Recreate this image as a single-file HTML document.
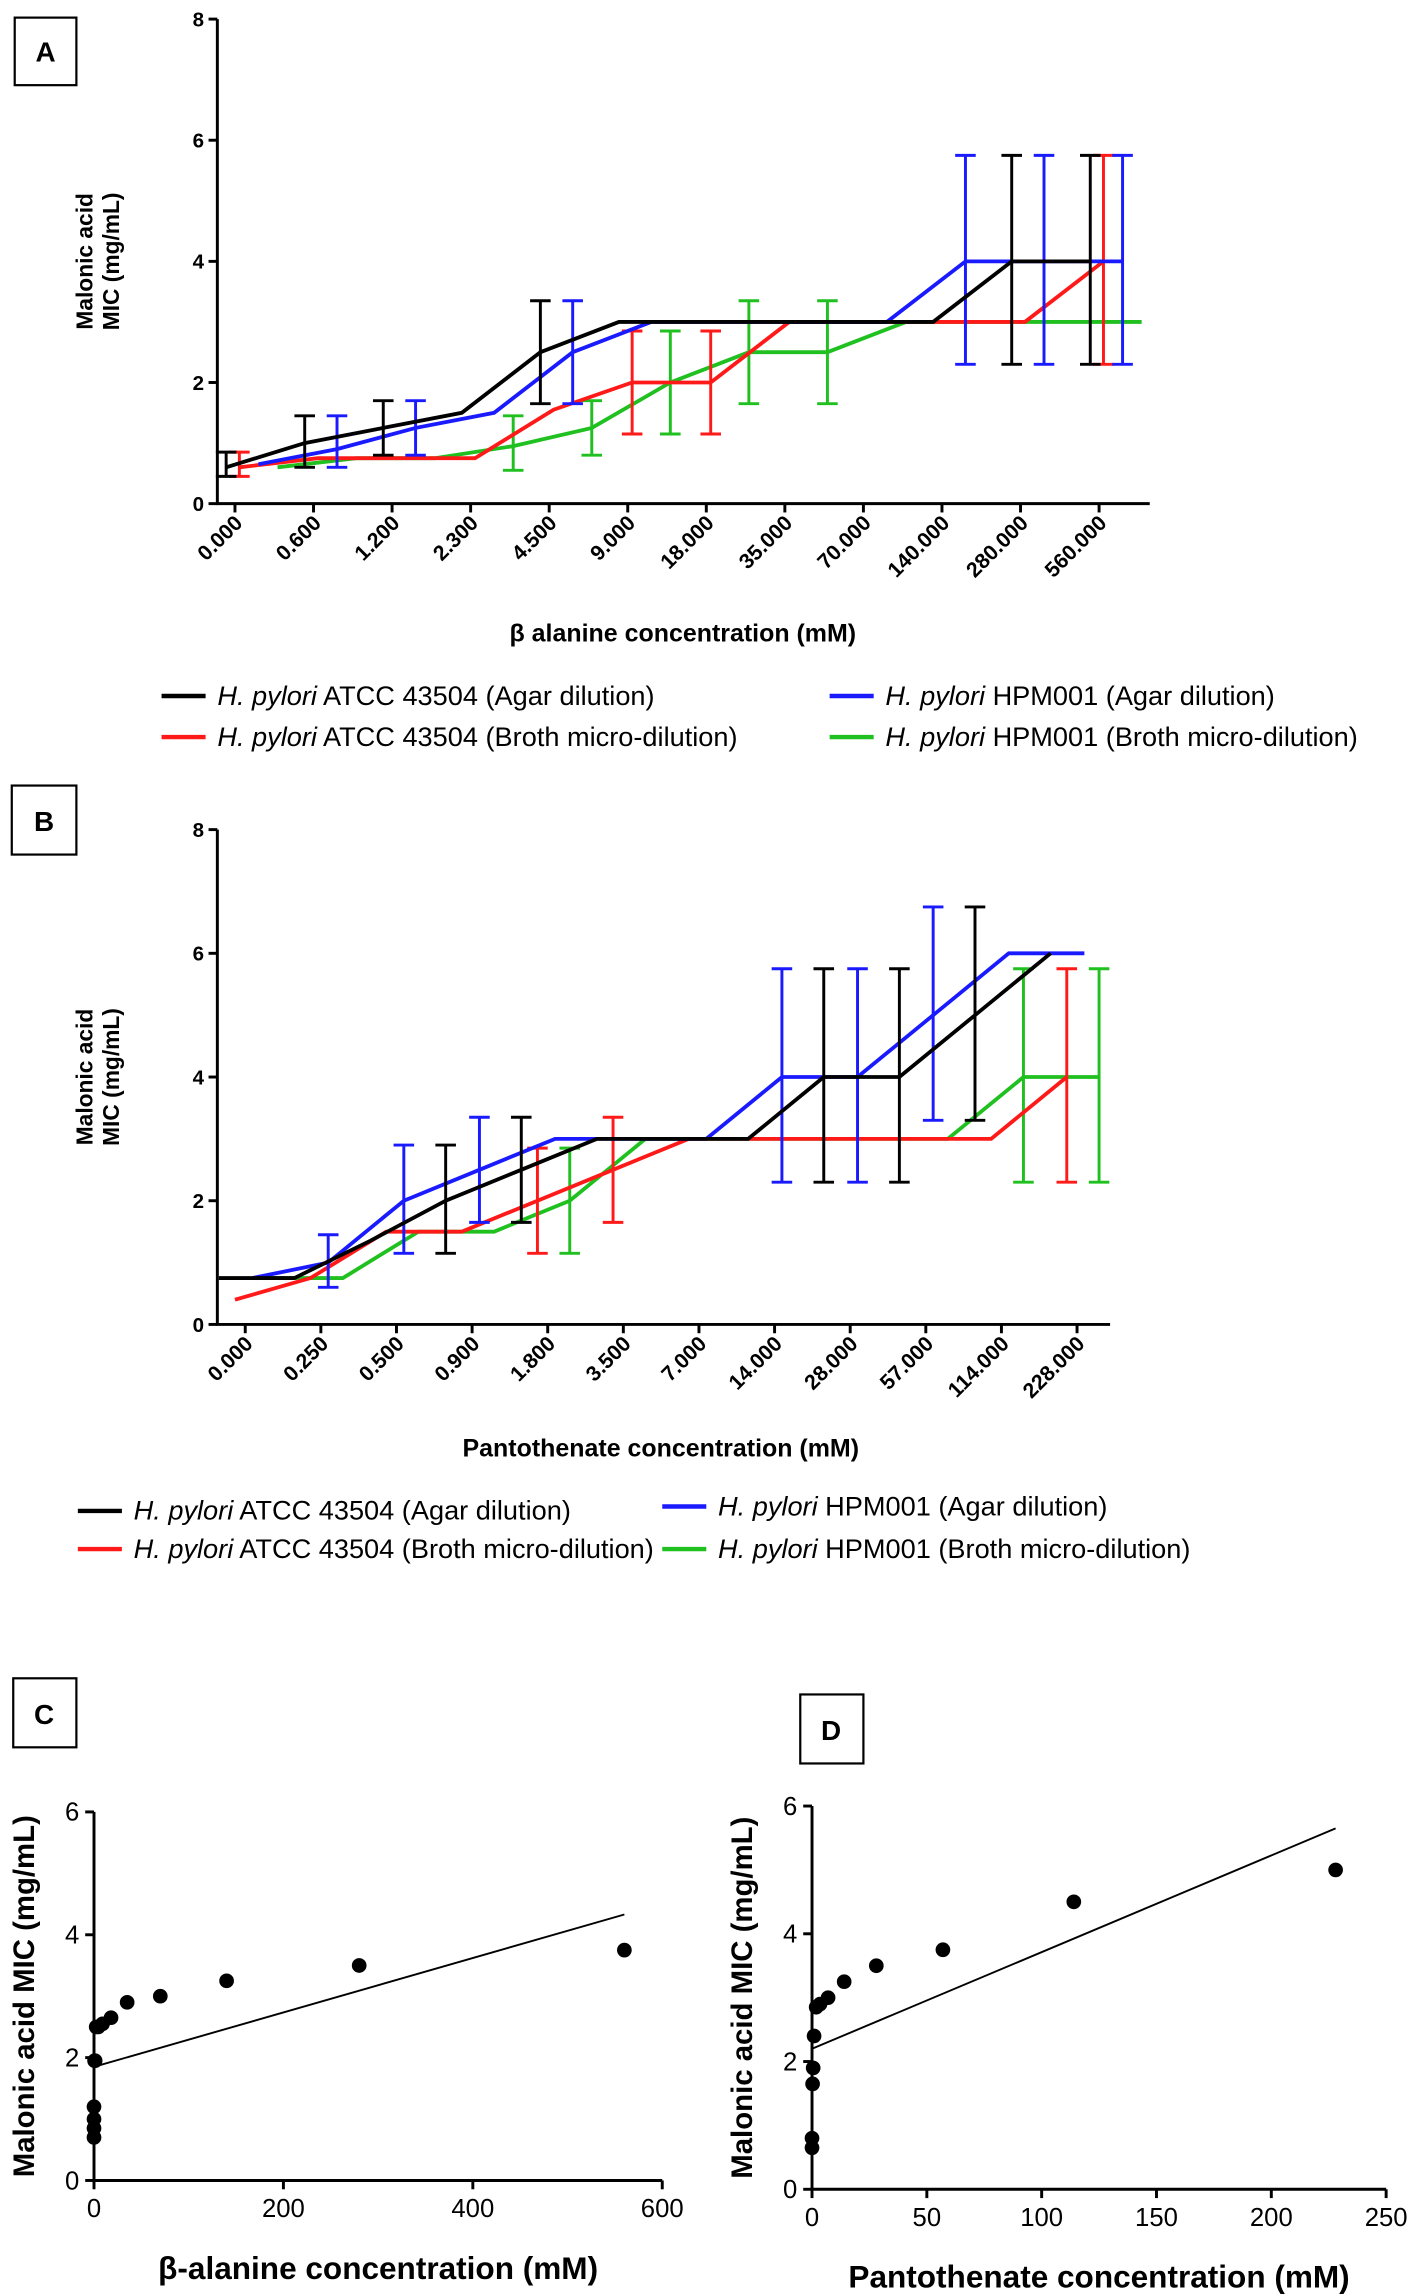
<!DOCTYPE html>
<html><head><meta charset="utf-8"><style>
html,body{margin:0;padding:0;background:#fff}
svg{display:block}
text{font-family:"Liberation Sans",Arial,sans-serif;fill:#000}
</style></head><body>
<svg id="fig" width="1417" height="2295" viewBox="0 0 965 1563" xmlns="http://www.w3.org/2000/svg">
<g><rect x="10" y="12" width="42" height="46" fill="none" stroke="#000" stroke-width="1.5"/><text x="31" y="42" font-size="19" font-weight="bold" text-anchor="middle">A</text></g>
<g><rect x="8" y="535" width="44" height="47" fill="none" stroke="#000" stroke-width="1.5"/><text x="30" y="566" font-size="19" font-weight="bold" text-anchor="middle">B</text></g>
<g><rect x="9" y="1143" width="43" height="47" fill="none" stroke="#000" stroke-width="1.5"/><text x="30" y="1174" font-size="19" font-weight="bold" text-anchor="middle">C</text></g>
<g><rect x="545" y="1154" width="43" height="47" fill="none" stroke="#000" stroke-width="1.5"/><text x="566" y="1185" font-size="19" font-weight="bold" text-anchor="middle">D</text></g>
<g id="A"></g><g id="B"></g><g id="C"></g><g id="D"></g>
</svg>
<script>
// ---------- Panel A data ----------
const catsA = ["0.000","0.600","1.200","2.300","4.500","9.000","18.000","35.000","70.000","140.000","280.000","560.000"];
const aBlack = [0.6,1.0,1.25,1.5,2.5,3,3,3,3,3,4,4];
const aBlue  = [0.65,0.9,1.25,1.5,2.5,3,3,3,3,4,4,4];
const aRed   = [0.6,0.75,0.75,0.75,1.55,2,2,3,3,3,3,4];
const aGreen = [0.6,0.75,0.75,0.95,1.25,2,2.5,2.5,3,3,3,3];
const aBlackErr = [[0,0.45,0.85],[1,0.6,1.45],[2,0.8,1.7],[4,1.65,3.35],[10,2.3,5.75],[11,2.3,5.75]];
const aBlueErr  = [[1,0.6,1.45],[2,0.8,1.7],[4,1.65,3.35],[9,2.3,5.75],[10,2.3,5.75],[11,2.3,5.75]];
const aRedErr   = [[0,0.45,0.85],[5,1.15,2.85],[6,1.15,2.85],[11,2.3,5.75]];
const aGreenErr = [[3,0.55,1.45],[4,0.8,1.7],[5,1.15,2.85],[6,1.65,3.35],[7,1.65,3.35]];
// ---------- Panel B data ----------
const catsB = ["0.000","0.250","0.500","0.900","1.800","3.500","7.000","14.000","28.000","57.000","114.000","228.000"];
const bBlack = [0.75,0.75,1.35,2.0,2.5,3,3,3,4,4,5,6];
const bBlue  = [0.75,1.0,2.0,2.5,3,3,3,4,4,5,6,6];
const bRed   = [0.4,0.75,1.5,1.5,2.0,2.5,3,3,3,3,3,4];
const bGreen = [0.75,0.75,1.5,1.5,2.0,3,3,3,3,3,4,4];
const bBlackErr = [[3,1.15,2.9],[4,1.65,3.35],[8,2.3,5.75],[9,2.3,5.75],[10,3.3,6.75]];
const bBlueErr  = [[1,0.6,1.45],[2,1.15,2.9],[3,1.65,3.35],[7,2.3,5.75],[8,2.3,5.75],[9,3.3,6.75]];
const bRedErr   = [[4,1.15,2.85],[5,1.65,3.35],[11,2.3,5.75]];
const bGreenErr = [[4,1.15,2.85],[10,2.3,5.75],[11,2.3,5.75]];
// ---------- Panel C data ----------
const cX = [0,0,0,0,0.6,1.2,2.3,4.5,9,18,35,70,140,280,560];
const cY = [0.7,0.85,1.0,1.2,1.95,1.95,2.5,2.5,2.55,2.65,2.9,3.0,3.25,3.5,3.75];
const cFit = [1.85,4.33];
const cXTicks = [0,200,400,600];
const cYTicks = [0,2,4,6];
// ---------- Panel D data ----------
const dX = [0,0,0.25,0.5,0.9,1.8,3.5,7,14,28,57,114,228];
const dY = [0.65,0.8,1.65,1.9,2.4,2.85,2.9,3.0,3.25,3.5,3.75,4.5,5.0];
const dFit = [2.2,5.65];
const dXTicks = [0,50,100,150,200,250];
const dYTicks = [0,2,4,6];
const yTicksAB = [0,2,4,6,8];

const NS="http://www.w3.org/2000/svg";
function mk(parent,tag,attrs,txt){const e=document.createElementNS(NS,tag);for(const k in attrs)e.setAttribute(k,attrs[k]);if(txt!==undefined)e.textContent=txt;parent.appendChild(e);return e;}

function linePanel(g,o){
  const X=i=>o.c0+o.step*i;
  const Y=v=>o.y0-(v/8)*(o.y0-o.y8);
  const ax=mk(g,'path',{d:`M${o.ax} ${o.y8}V${o.y0}H${o.xEnd}`,fill:'none',stroke:'#000','stroke-width':2});
  
  
  yTicksAB.forEach(t=>{
    const tk=mk(g,'line',{x1:o.ax-6,x2:o.ax,y1:Y(t),y2:Y(t),stroke:'#000','stroke-width':2});
    
    
    const tl=mk(g,'text',{x:o.ax-9,y:Y(t)+5,'font-size':14,'font-weight':'bold','text-anchor':'end'},t);
    
    
  });
  o.cats.forEach((c,i)=>{
    const x=X(i)+o.labOff;
    const tk=mk(g,'line',{x1:x,x2:x,y1:o.y0,y2:o.y0+6,stroke:'#000','stroke-width':2});
    
    
    const tl=mk(g,'text',{x:x+6,y:o.y0+14,'font-size':14.5,'font-weight':'bold','text-anchor':'end',transform:`rotate(-45 ${x+6} ${o.y0+14})`},c);
    
    
  });
  o.series.forEach(s=>{
    const pts=s.v.map((v,i)=>`${X(i)+s.off},${Y(v)}`).join(' ');
    const pl=mk(g,'polyline',{points:pts,fill:'none',stroke:s.col,'stroke-width':2.6});
    
    
    s.err.forEach(e=>{
      const x=X(e[0])+s.off;
      const eb=mk(g,'path',{d:`M${x-7} ${Y(e[1])}H${x+7}M${x} ${Y(e[1])}V${Y(e[2])}M${x-7} ${Y(e[2])}H${x+7}`,fill:'none',stroke:s.col,'stroke-width':2});
      
      
    });
  });
  const yt=mk(g,'text',{x:0,y:0,'font-size':15.5,'font-weight':'bold','text-anchor':'middle',transform:`translate(${o.ytX},${(o.y0+o.y8)/2}) rotate(-90)`});
  
  
  mk(yt,'tspan',{x:0,dy:-9},'Malonic acid');
  mk(yt,'tspan',{x:0,dy:18},'MIC (mg/mL)');
  const xt=mk(g,'text',{x:o.xtX,y:o.xtY,'font-size':17,'font-weight':'bold','text-anchor':'middle'},o.xTitle);
  
  
  o.legend.forEach(l=>{
    const ll=mk(g,'line',{x1:l.x,x2:l.x+30,y1:l.y-6,y2:l.y-6,stroke:l.col,'stroke-width':3});
    
    
    const lt=mk(g,'text',{x:l.x+38,y:l.y,'font-size':18.5});
    
    
    mk(lt,'tspan',{'font-style':'italic'},'H. pylori');
    mk(lt,'tspan',{},' '+l.t);
  });
}

linePanel(document.getElementById('A'),{cats:catsA,c0:160,step:53.5,ax:148,xEnd:783,y0:343,y8:13,labOff:0,ytX:72,xtX:465,xtY:437,
  xTitle:'β alanine concentration (mM)',
  series:[{name:'green',col:'#1fc01f',v:aGreen,off:29,err:aGreenErr},{name:'red',col:'#ff1a1a',v:aRed,off:3,err:aRedErr},
          {name:'blue',col:'#1a1aff',v:aBlue,off:16,err:aBlueErr},{name:'black',col:'#000',v:aBlack,off:-6,err:aBlackErr}],
  legend:[{x:110,y:480,col:'#000',t:'ATCC 43504 (Agar dilution)'},{x:110,y:508,col:'#ff1a1a',t:'ATCC 43504 (Broth micro-dilution)'},
          {x:565,y:480,col:'#1a1aff',t:'HPM001 (Agar dilution)'},{x:565,y:508,col:'#1fc01f',t:'HPM001 (Broth micro-dilution)'}]});

linePanel(document.getElementById('B'),{cats:catsB,c0:167,step:51.5,ax:148,xEnd:756,y0:902,y8:565,labOff:0,ytX:72,xtX:450,xtY:992,
  xTitle:'Pantothenate concentration (mM)',
  series:[{name:'green',col:'#1fc01f',v:bGreen,off:15,err:bGreenErr},{name:'red',col:'#ff1a1a',v:bRed,off:-7,err:bRedErr},
          {name:'blue',col:'#1a1aff',v:bBlue,off:5,err:bBlueErr},{name:'black',col:'#000',v:bBlack,off:-18,err:bBlackErr}],
  legend:[{x:53,y:1035,col:'#000',t:'ATCC 43504 (Agar dilution)'},{x:53,y:1061,col:'#ff1a1a',t:'ATCC 43504 (Broth micro-dilution)'},
          {x:451,y:1032,col:'#1a1aff',t:'HPM001 (Agar dilution)'},{x:451,y:1061,col:'#1fc01f',t:'HPM001 (Broth micro-dilution)'}]});

function scatter(g,o){
  const X=v=>o.x0+(v-o.xt[0])/(o.xt[o.xt.length-1]-o.xt[0])*(o.x1-o.x0);
  const Y=v=>o.y0-v/6*(o.y0-o.y6);
  const ax=mk(g,'path',{d:`M${o.x0} ${o.y6}V${o.y0}H${o.x1}`,fill:'none',stroke:'#000','stroke-width':2});
  
  
  o.yt.forEach(t=>{
    const tk=mk(g,'line',{x1:o.x0-6,x2:o.x0,y1:Y(t),y2:Y(t),stroke:'#000','stroke-width':2});
    
    
    const tl=mk(g,'text',{x:o.x0-10,y:Y(t)+6,'font-size':17.5,'text-anchor':'end'},t);
    
    
  });
  o.xt.forEach(t=>{
    const tk=mk(g,'line',{x1:X(t),x2:X(t),y1:o.y0,y2:o.y0+6,stroke:'#000','stroke-width':2});
    
    
    const tl=mk(g,'text',{x:X(t),y:o.y0+25,'font-size':17.5,'text-anchor':'middle'},t);
    
    
  });
  const xmax=o.xs[o.xs.length-1];
  const fl=mk(g,'line',{x1:X(0),y1:Y(o.fit[0]),x2:X(xmax),y2:Y(o.fit[1]),stroke:'#000','stroke-width':1.3});
  
  
  o.xs.forEach((x,i)=>{
    const c=mk(g,'circle',{cx:X(x),cy:Y(o.ys[i]),r:5,fill:'#000'});
    
    
  });
  const yt=mk(g,'text',{x:0,y:0,'font-size':20,'font-weight':'bold','text-anchor':'middle',transform:`translate(${o.x0-41},${(o.y0+o.y6)/2}) rotate(-90)`},'Malonic acid MIC (mg/mL)');
  
  
  const xt=mk(g,'text',{x:(o.x0+o.x1)/2,y:o.y0+67,'font-size':21.5,'font-weight':'bold','text-anchor':'middle'},o.title);
  
  
}
scatter(document.getElementById('C'),{x0:64,x1:451,y0:1485,y6:1234,xt:cXTicks,yt:cYTicks,xs:cX,ys:cY,fit:cFit,title:'β-alanine concentration (mM)'});
scatter(document.getElementById('D'),{x0:553,x1:944,y0:1491,y6:1230,xt:dXTicks,yt:dYTicks,xs:dX,ys:dY,fit:dFit,title:'Pantothenate concentration (mM)'});
</script>
</body></html>
